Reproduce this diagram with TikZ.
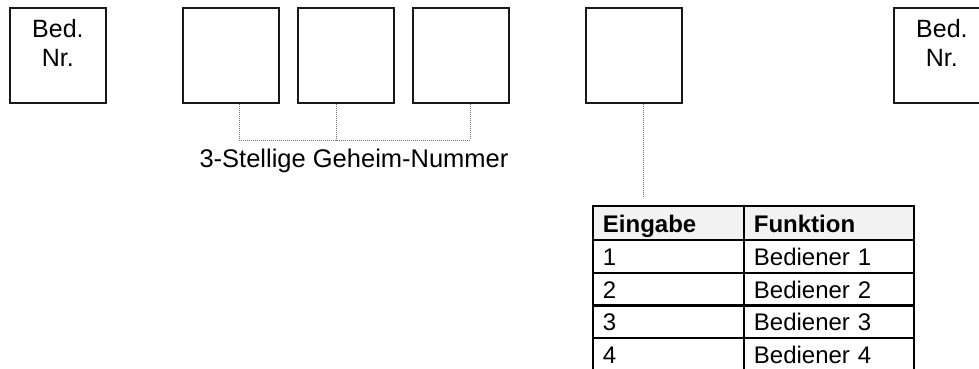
\documentclass[tikz,border=0pt]{standalone}
\usepackage{fontspec}
\setmainfont{Liberation Sans}
\begin{document}
\begin{tikzpicture}[x=1pt,y=-1pt,
  keybox/.style={draw=black!90, line width=1.8pt, minimum width=96pt, minimum height=95pt, inner sep=0pt, anchor=north west},
  boxlabel/.style={align=center, font=\fontsize{25}{29}\selectfont, inner sep=0pt, anchor=north},
  dotline/.style={draw=black!55, line width=1pt, dash pattern=on 1pt off 1pt},
  cell/.style={draw=black, line width=1.8pt, anchor=north west, inner xsep=10pt, inner ysep=0pt, align=left, text height=21pt, text depth=2pt, font=\fontsize{24}{28}\selectfont},
  colA/.style={cell, text width=131pt},
  colB/.style={cell, text width=150pt},
  headrow/.style={minimum height=34pt, fill=black!5, font=\fontsize{24}{28}\selectfont\bfseries},
  datarow/.style={minimum height=33pt}
]
\useasboundingbox (0,0) rectangle (979,368);
\clip (0,0) rectangle (979,368);
% top boxes
\node[keybox] (b1) at (9,7) {};
\node[keybox] (b2) at (182,7) {};
\node[keybox] (b3) at (297,7) {};
\node[keybox] (b4) at (412,7) {};
\node[keybox] (b5) at (585,7) {};
\node[keybox] (b6) at (893,7) {};
\node[boxlabel] (t1) at ([yshift=-12pt]b1.north) {Bed.\\Nr.};
\node[boxlabel] (t6) at ([yshift=-12pt]b6.north) {Bed.\\Nr.};
% connectors for the 3-digit code
\coordinate (j2) at (239,140);
\coordinate (j3) at (336,140);
\coordinate (j4) at (470,140);
\draw[dotline] (b2.south -| j2) -- (j2) -- (j4) -- (b4.south -| j4);
\draw[dotline] (b3.south -| j3) -- (j3);
\node[font=\fontsize{25.5}{30}\selectfont, anchor=base] (code) at (354,167) {3-Stellige Geheim-Nummer};
% table
\node[colA, headrow] (h1) at (592,205) {Eingabe};
\node[colB, headrow] (h2) at (743,205) {Funktion};
\node[colA, datarow] (a1) at (592,239) {1};
\node[colB, datarow] (f1) at (743,239) {Bediener 1};
\node[colA, datarow] (a2) at (592,272) {2};
\node[colB, datarow] (f2) at (743,272) {Bediener 2};
\node[colA, datarow] (a3) at (592,304) {3};
\node[colB, datarow] (f3) at (743,304) {Bediener 3};
\node[colA, datarow] (a4) at (592,337) {4};
\node[colB, datarow] (f4) at (743,337) {Bediener 4};
% connector from the function key to the table
\coordinate (tend) at (643,197);
\draw[dotline] (b5.south -| tend) -- (tend);
\end{tikzpicture}
\end{document}
